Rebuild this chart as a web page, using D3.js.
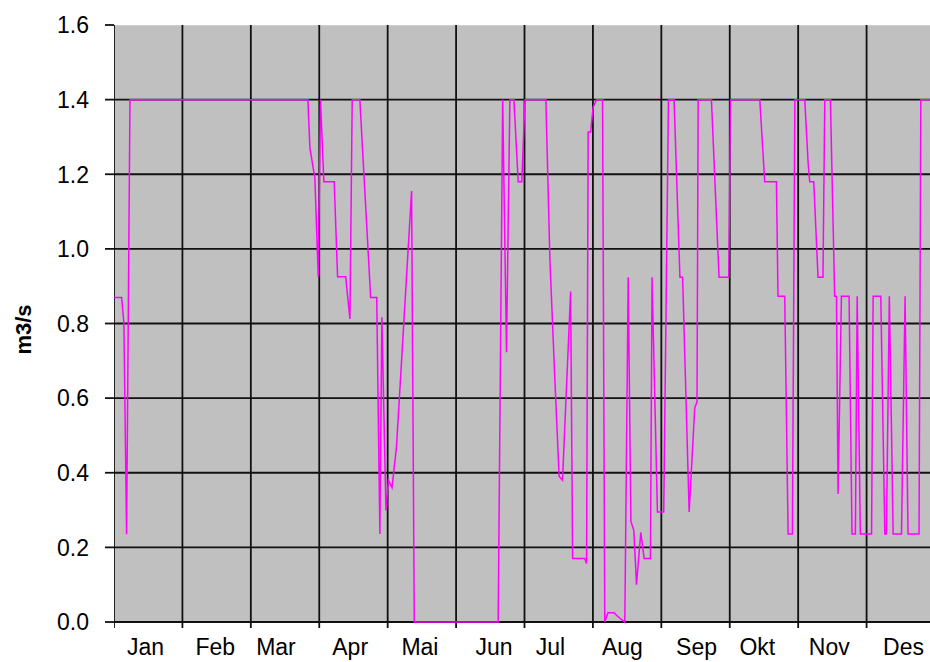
<!DOCTYPE html>
<html>
<head>
<meta charset="utf-8">
<script src="https://cdn.jsdelivr.net/npm/d3@7"></script>
<style>
    body { margin: 0; background: #fff; }
    svg { display: block; font-family: "Liberation Sans", Arial, sans-serif; }
</style>
</head>
<body>
<script>
'use strict';

var months = ["Jan", "Feb", "Mar", "Apr", "Mai", "Jun", "Jul", "Aug", "Sep", "Okt", "Nov", "Des"];
// day of year where each month label sits
var monthLabelDay = [14, 45, 72, 105, 136, 169, 194, 226, 259, 286, 318, 351];
var yTicks = [0, 0.2, 0.4, 0.6, 0.8, 1.0, 1.2, 1.4, 1.6];

// breakpoints of the flow line (day of year, m3/s)
var flowDay = [
    0, 3.4, 4.4, 5.6, 7.1, 86.2, 87.1, 89.3, 90.8, 91.8,
    93.3, 97.9, 99.4, 103, 104.9, 105.9, 109.3, 114.1, 116.8, 118.2,
    119.1, 120.9, 122, 123.6, 125.6, 132.3, 133.5, 170.8, 172.8, 174.5,
    176, 177.8, 179.7, 181.3, 182.7, 192, 193.8, 196, 197.9, 199.4,
    203, 203.9, 209.3, 210.1, 210.8, 211.9, 213, 214.5, 217.2, 218.2,
    219.6, 222.2, 224.9, 227.1, 228.6, 229.8, 231.1, 232.3, 234.2, 235.7,
    238.5, 239.2, 241.6, 244.4, 246.5, 249, 251.6, 252.8, 255.7, 258.2,
    259.2, 259.7, 265.6, 269, 273.3, 274.1, 287.1, 289.3, 294.5, 295.2,
    298.2, 299.7, 301.6, 302.7, 307.1, 308.6, 309.3, 311.1, 313, 315.2,
    316, 318.5, 320.4, 321.2, 321.9, 323.4, 326.8, 328.1, 329.6, 330.4,
    331.8, 336.8, 337.5, 340.9, 342.7, 343.4, 344.7, 346.4, 350.1, 351.7,
    353, 357.9, 358.7, 364
];
var flowValue = [
    0.87, 0.87, 0.80, 0.235, 1.4, 1.4, 1.27, 1.19, 0.925, 1.4,
    1.18, 1.18, 0.925, 0.925, 0.812, 1.4, 1.4, 0.87, 0.87, 0.236,
    0.817, 0.299, 0.38, 0.36, 0.47, 1.155, 0, 0, 1.4, 0.723,
    1.4, 1.4, 1.18, 1.18, 1.4, 1.4, 0.97, 0.65, 0.39, 0.38,
    0.886, 0.17, 0.17, 0.157, 1.313, 1.313, 1.38, 1.4, 1.4, 0,
    0.025, 0.025, 0.01, 0, 0.924, 0.27, 0.245, 0.1, 0.24, 0.17,
    0.17, 0.924, 0.295, 0.295, 1.4, 1.4, 0.924, 0.924, 0.295, 0.574,
    0.59, 1.4, 1.4, 0.924, 0.924, 1.4, 1.4, 1.18, 1.18, 0.873,
    0.873, 0.236, 0.236, 1.4, 1.4, 1.23, 1.18, 1.18, 0.924, 0.924,
    1.4, 1.4, 0.873, 0.873, 0.343, 0.873, 0.873, 0.236, 0.236, 0.873,
    0.236, 0.236, 0.873, 0.873, 0.236, 0.236, 0.873, 0.236, 0.236, 0.873,
    0.236, 0.236, 1.4, 1.4
];

var outerWidth = 930;
var outerHeight = 662;
var margin = { left: 114, top: 25, right: -5, bottom: 40 };
var innerWidth = outerWidth - margin.left - margin.right;
var innerHeight = outerHeight - margin.top - margin.bottom;

var svg = d3.select("body").append("svg")
    .attr("width", outerWidth)
    .attr("height", outerHeight);

// the plot runs a few px past the window edge, as in the original
svg.append("clipPath")
    .attr("id", "plot-clip")
    .append("rect")
    .attr("width", outerWidth - margin.left)
    .attr("height", innerHeight + 10);

var g = svg.append("g")
    .attr("transform", "translate(" + margin.left + "," + margin.top + ")");

var plot = g.append("g")
    .attr("clip-path", "url(#plot-clip)");

var xScale = d3.scaleLinear().domain([0, 365]).range([0, innerWidth]);
var yScale = d3.scaleLinear().domain([0, 1.6]).range([innerHeight, 0]);

var monthEdges = d3.range(13).map(function(i) { return i * 365 / 12; });

plot.append("rect")
    .attr("width", innerWidth)
    .attr("height", innerHeight)
    .attr("fill", "#c0c0c0");

// horizontal grid
plot.selectAll(".hgrid")
    .data(yTicks.slice(0, -1))
    .enter().append("line")
    .attr("class", "hgrid")
    .attr("x1", 0)
    .attr("x2", innerWidth)
    .attr("y1", function(d) { return yScale(d); })
    .attr("y2", function(d) { return yScale(d); })
    .attr("stroke", "#111")
    .attr("stroke-width", 1.8);

// left ticks
g.selectAll(".ytick")
    .data(yTicks)
    .enter().append("line")
    .attr("class", "ytick")
    .attr("x1", -9)
    .attr("x2", 0)
    .attr("y1", function(d) { return yScale(d); })
    .attr("y2", function(d) { return yScale(d); })
    .attr("stroke", "#111")
    .attr("stroke-width", 1.8);

// top edge of plot area
plot.append("line")
    .attr("x1", 0).attr("x2", innerWidth)
    .attr("y1", yScale(1.6)).attr("y2", yScale(1.6))
    .attr("stroke", "#d4d4d4")
    .attr("stroke-width", 1.5);

// vertical grid at month edges + bottom ticks
plot.selectAll(".vgrid")
    .data(monthEdges)
    .enter().append("line")
    .attr("class", "vgrid")
    .attr("x1", function(d) { return xScale(d); })
    .attr("x2", function(d) { return xScale(d); })
    .attr("y1", 0)
    .attr("y2", innerHeight + 6)
    .attr("stroke", "#111")
    .attr("stroke-width", 1.8);

var line = d3.line()
    .x(function(d, i) { return xScale(flowDay[i]); })
    .y(function(d) { return yScale(d); });

plot.append("path")
    .datum(flowValue)
    .attr("d", line)
    .attr("fill", "none")
    .attr("stroke", "#ff00ff")
    .attr("stroke-width", 1.5)
    .attr("stroke-linejoin", "miter");

g.selectAll(".ylabel")
    .data(yTicks)
    .enter().append("text")
    .attr("class", "ylabel")
    .attr("x", -25)
    .attr("y", function(d) { return yScale(d); })
    .attr("dy", "0.36em")
    .attr("text-anchor", "end")
    .attr("font-size", 23)
    .attr("fill", "#000")
    .text(function(d) { return d.toFixed(1); });

g.selectAll(".xlabel")
    .data(months)
    .enter().append("text")
    .attr("class", "xlabel")
    .attr("x", function(d, i) { return xScale(monthLabelDay[i]); })
    .attr("y", innerHeight + 33)
    .attr("text-anchor", "middle")
    .attr("font-size", 23)
    .attr("fill", "#000")
    .text(function(d) { return d; });

svg.append("text")
    .attr("transform", "translate(31," + (margin.top + innerHeight / 2 + 6) + ") rotate(-90)")
    .attr("text-anchor", "middle")
    .attr("font-size", 22)
    .attr("font-weight", "bold")
    .attr("fill", "#000")
    .text("m3/s");
</script>
</body>
</html>
